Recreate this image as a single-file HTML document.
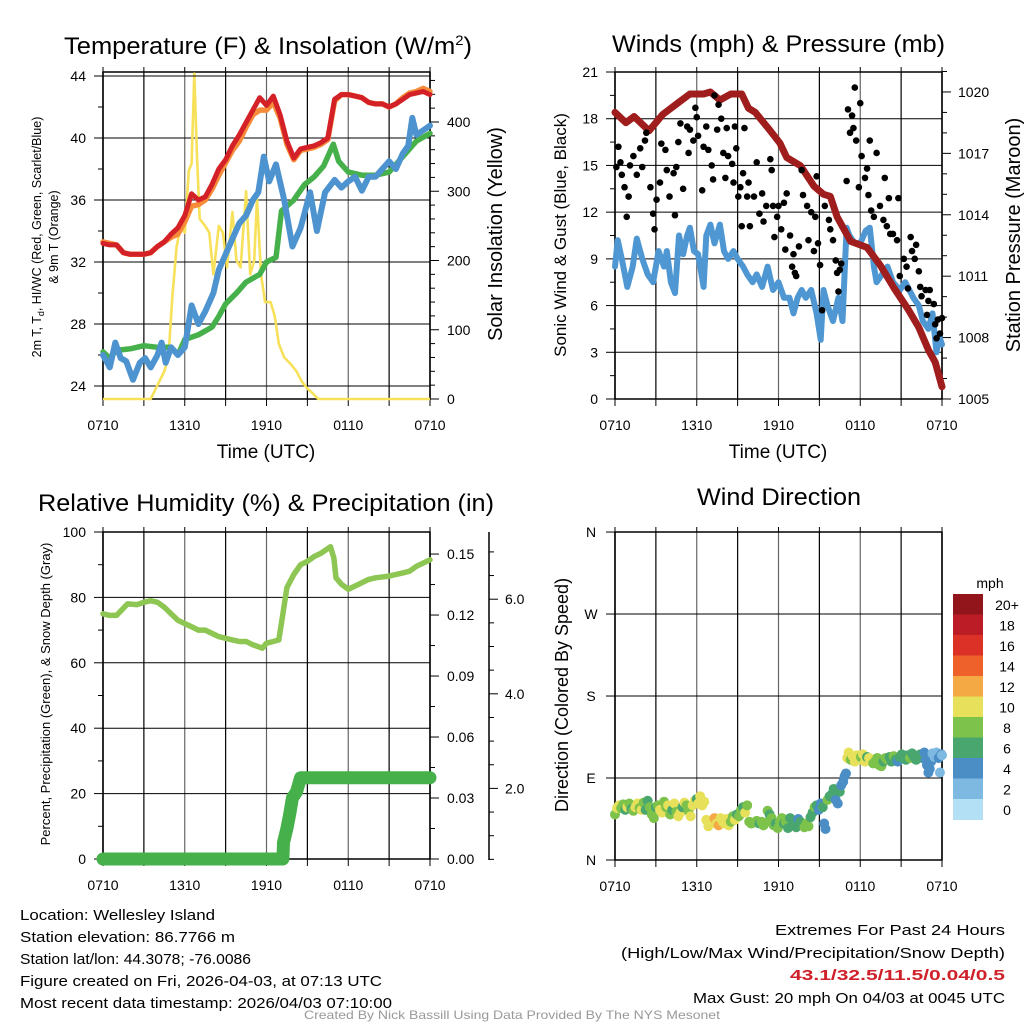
<!DOCTYPE html>
<html><head><meta charset="utf-8"><style>
html,body{margin:0;padding:0;background:#fff}
svg{display:block;font-family:"Liberation Sans",Arial,sans-serif}
</style></head><body>
<svg id="chart" xmlns="http://www.w3.org/2000/svg" width="1024" height="1024" viewBox="0 0 1024 1024">
<rect x="0" y="0" width="1024" height="1024" fill="#fff"/>
<g id="layer"></g>
<g font-size="24" fill="#000">
<text x="64" y="54" textLength="408" lengthAdjust="spacingAndGlyphs">Temperature (F) &amp; Insolation (W/m<tspan font-size="14" dy="-9">2</tspan><tspan dy="9">)</tspan></text>
<text x="612" y="52" textLength="333" lengthAdjust="spacingAndGlyphs">Winds (mph) &amp; Pressure (mb)</text>
<text x="38" y="511" textLength="456" lengthAdjust="spacingAndGlyphs">Relative Humidity (%) &amp; Precipitation (in)</text>
<text x="697" y="505" textLength="164" lengthAdjust="spacingAndGlyphs">Wind Direction</text>
</g>
<g fill="#000">
<text x="266" y="458" font-size="19" text-anchor="middle">Time (UTC)</text>
<text x="778" y="458" font-size="19" text-anchor="middle">Time (UTC)</text>
<text transform="translate(41,237) rotate(-90)" font-size="12.5" text-anchor="middle">2m T, T<tspan font-size="9" dy="3">d</tspan><tspan dy="-3">, HI/WC (Red, Green, Scarlet/Blue)</tspan></text>
<text transform="translate(58,237) rotate(-90)" font-size="12.5" text-anchor="middle">&amp; 9m T (Orange)</text>
<text transform="translate(502,234) rotate(-90)" font-size="20" text-anchor="middle">Solar Insolation (Yellow)</text>
<text transform="translate(566,235) rotate(-90)" font-size="17" text-anchor="middle">Sonic Wind &amp; Gust (Blue, Black)</text>
<text transform="translate(1020,235) rotate(-90)" font-size="20" text-anchor="middle">Station Pressure (Maroon)</text>
<text transform="translate(50,694) rotate(-90)" font-size="13" text-anchor="middle">Percent, Precipitation (Green), &amp; Snow Depth (Gray)</text>
<text transform="translate(568,695) rotate(-90)" font-size="18" text-anchor="middle">Direction (Colored By Speed)</text>
</g>
<g font-size="15" fill="#000">
<text x="20" y="920" textLength="195" lengthAdjust="spacingAndGlyphs">Location: Wellesley Island</text>
<text x="20" y="942" textLength="215" lengthAdjust="spacingAndGlyphs">Station elevation: 86.7766 m</text>
<text x="20" y="964" textLength="231" lengthAdjust="spacingAndGlyphs">Station lat/lon: 44.3078; -76.0086</text>
<text x="20" y="986" textLength="362" lengthAdjust="spacingAndGlyphs">Figure created on Fri, 2026-04-03, at 07:13 UTC</text>
<text x="20" y="1008" textLength="372" lengthAdjust="spacingAndGlyphs">Most recent data timestamp: 2026/04/03 07:10:00</text>
<text x="1005" y="935" text-anchor="end" textLength="230" lengthAdjust="spacingAndGlyphs">Extremes For Past 24 Hours</text>
<text x="1005" y="958" text-anchor="end" textLength="384" lengthAdjust="spacingAndGlyphs">(High/Low/Max Wind/Precipitation/Snow Depth)</text>
<text x="1005" y="980" text-anchor="end" textLength="215" lengthAdjust="spacingAndGlyphs" font-weight="bold" fill="#d0202a">43.1/32.5/11.5/0.04/0.5</text>
<text x="1005" y="1003" text-anchor="end" textLength="312" lengthAdjust="spacingAndGlyphs">Max Gust: 20 mph On 04/03 at 0045 UTC</text>
<text x="512" y="1019" text-anchor="middle" font-size="12" fill="#999" textLength="416" lengthAdjust="spacingAndGlyphs">Created By Nick Bassill Using Data Provided By The NYS Mesonet</text>
</g>
</svg>
<script>
// ---------- DATA ----------
const xTickLabels = ["0710","1310","1910","0110","0710"];
const halfHours = []; for (let i = 0; i <= 48; i++) halfHours.push(i * 0.5);
const redT = [33.2,33.1,33.1,32.6,32.5,32.5,32.5,32.6,33.0,33.3,33.8,34.2,35.0,36.4,36.0,36.2,37.0,38.0,38.6,39.5,40.2,41.0,41.8,42.6,42.1,42.7,41.5,39.8,38.7,39.3,39.4,39.5,39.7,40.0,42.5,42.8,42.8,42.7,42.6,42.3,42.2,42.2,42.0,42.2,42.5,42.8,42.9,43.0,42.8];
const orangeT = [33.3,33.2,33.1,32.6,32.5,32.5,32.5,32.6,33.0,33.3,33.6,33.8,34.6,35.6,35.7,36.0,36.7,37.6,38.4,39.2,39.8,40.7,41.5,41.8,41.8,42.3,41.3,39.6,38.6,39.2,39.3,39.4,39.6,39.9,42.4,42.8,42.8,42.7,42.6,42.3,42.2,42.2,42.0,42.2,42.6,42.9,43.0,43.2,43.0];
const blueH = [0,0.5,0.9,1.3,1.7,2.2,2.7,3.1,3.5,4.0,4.3,4.6,5.0,5.5,6.0,6.5,7.0,7.5,8.1,8.5,9.0,9.5,10.0,10.5,11.0,11.4,11.8,12.2,12.7,13.3,13.9,14.5,15.2,15.7,16.3,17.0,17.5,18.0,18.5,19.0,19.5,20.0,20.5,21.0,21.5,22.0,22.4,22.7,23.0,23.5,24];
const blueT = [26.0,25.2,26.8,25.8,25.6,24.4,25.5,25.8,25.2,26.0,26.8,25.5,26.5,26.0,26.5,29.2,28.0,28.8,30.0,31.5,32.5,33.5,34.5,35.0,36.0,36.5,38.8,37.2,38.3,36.0,33.0,34.2,36.5,34.0,36.5,37.3,36.8,37.2,37.5,36.6,37.5,37.5,38.0,38.5,38.0,39.0,39.5,41.3,40.2,40.5,40.8];
const greenH = [0,0.5,1,2,3,4,5,5.5,6,7,8,8.5,9,9.8,10.5,11.5,12,12.7,13.1,14,14.8,15.5,16.2,16.9,17.3,18,19,20,21,21.5,22.2,23,24];
const greenT = [26.2,25.8,26.3,26.4,26.6,26.5,26.5,26.0,27.0,27.3,27.8,28.5,29.3,30.0,30.7,31.2,32.0,32.3,35.3,36.0,37.0,37.5,38.2,39.6,38.5,37.8,37.6,37.6,37.8,38.3,39.0,39.8,40.3];
const solarH = [0,3.5,4.0,4.5,4.8,5.1,5.4,5.7,6.0,6.3,6.5,6.7,6.9,7.1,7.5,7.8,8.1,8.5,8.8,9.1,9.5,9.8,10.1,10.5,10.8,11.1,11.3,11.6,11.9,12.3,12.6,12.9,13.3,13.8,14.2,14.6,15.0,15.3,15.8,24];
const solarV = [0,0,20,40,60,150,220,250,240,330,340,470,350,260,250,240,180,250,240,190,270,200,190,300,180,200,290,180,140,140,120,80,60,50,40,25,15,10,0,0];
const windH = [0,0.2,0.5,0.9,1.3,1.6,2.0,2.4,2.8,3.2,3.6,3.8,4.1,4.4,4.7,5.0,5.3,5.5,5.8,6.1,6.5,6.7,7.0,7.3,7.7,8.0,8.3,8.7,9.0,9.4,9.7,10.1,10.4,10.8,11.2,11.6,12.0,12.4,12.8,13.1,13.4,13.7,14.0,14.4,14.8,15.1,15.3,15.6,16.0,16.4,16.7,17.0,17.2,17.6,18.0,18.4,18.7,19.0,19.2,19.6,20.0,20.4,20.9,21.3,21.9,22.3,22.6,23.0,23.3,23.6,23.8,24];
const windV = [8.5,10.2,9.0,7.2,8.5,10.3,9.0,8.0,7.5,9.5,8.5,9.5,7.5,6.8,10.5,9.3,10.5,11.0,9.5,9.3,7.2,10.5,11.2,10.0,11.2,9.5,9.0,9.5,9.0,8.5,8.0,7.5,8.0,7.2,8.5,7.0,7.5,6.5,6.5,5.5,6.5,7.0,6.5,7.0,5.5,3.8,7.0,6.0,5.0,6.5,5.0,11.0,10.5,10.0,10.0,10.8,11.0,8.5,7.5,8.0,8.5,7.5,7.0,7.5,6.5,6.0,5.0,4.5,5.5,3.0,4.0,3.5];
const presH = [0,0.8,1.4,2.5,3.5,4.5,5.5,6.5,7.0,7.7,8.5,9.3,9.8,10.3,11.4,12.1,12.6,13.6,14.6,15.3,15.8,16.3,17.3,18.5,19.5,20.5,21.5,22.3,23.0,23.5,24];
const presV = [1019.0,1018.5,1018.8,1018.1,1018.9,1019.4,1019.9,1019.9,1020.0,1019.6,1019.9,1019.9,1019.2,1019.0,1018.1,1017.5,1016.8,1016.4,1015.4,1015.0,1014.9,1013.9,1012.7,1012.4,1011.5,1010.4,1009.4,1008.5,1007.4,1006.8,1005.6];
const gustH = [0.1,0.25,0.4,0.5,0.7,0.86,1.0,1.1,1.35,1.6,1.85,2.0,2.2,2.3,2.6,2.8,2.9,3.05,3.3,3.4,3.7,3.8,4.0,4.3,4.4,4.5,4.65,4.8,5.0,5.3,5.4,5.5,5.75,5.9,6.0,6.1,6.4,6.5,6.7,6.85,7.1,7.2,7.3,7.5,7.6,7.8,7.95,8.1,8.2,8.3,8.6,8.7,8.8,8.9,9.05,9.2,9.3,9.4,9.5,9.7,9.8,9.9,10.2,10.4,10.6,10.8,10.9,11.1,11.4,11.5,11.6,11.7,11.9,12.0,12.2,12.4,12.5,12.6,12.85,13.0,13.1,13.2,13.3,13.5,13.7,13.8,14.1,14.2,14.4,14.6,14.7,14.8,14.9,15.05,15.2,15.4,15.7,15.8,16.0,16.2,16.3,16.4,16.5,16.6,17.0,17.1,17.25,17.4,17.5,17.6,17.7,17.9,18.0,18.1,18.35,18.5,18.6,18.7,18.8,19.0,19.2,19.45,19.7,19.8,19.95,20.1,20.2,20.4,20.7,20.8,20.9,21.2,21.4,21.5,21.7,21.8,22.0,22.1,22.3,22.4,22.5,22.8,22.9,23.0,23.1,23.4,23.5,23.6,23.7,23.85,24.0];
const gustV = [14.9,16.2,15.2,14.4,13.6,11.7,13.0,15.0,15.6,14.4,16.1,14.9,16.6,17.1,13.6,11.9,10.9,12.8,13.9,16.4,16.0,14.7,13.0,14.5,11.8,14.9,16.5,17.7,13.5,17.5,15.8,17.3,16.6,18.7,18.1,16.9,13.4,16.2,17.5,16.0,15.0,14.1,19.5,17.3,18.9,18.0,15.8,14.2,17.4,15.6,15.1,13.9,17.5,16.1,13.0,13.6,11.1,14.5,17.4,13.0,13.9,11.1,13.0,15.2,11.9,13.2,11.4,12.4,15.4,14.7,12.4,10.4,11.7,12.4,10.9,12.6,9.6,13.2,10.5,8.5,9.3,8.1,7.9,9.8,14.7,13.1,12.4,10.2,12.0,9.5,11.7,14.3,10.0,8.6,5.7,12.4,11.5,10.9,10.2,8.9,8.1,6.9,8.3,8.7,14.0,18.6,17.1,18.2,17.4,20.0,16.6,13.6,19.0,15.6,14.2,14.8,13.1,16.6,12.1,11.7,15.8,12.4,11.5,14.2,11.1,12.9,10.6,10.6,10.2,12.9,7.9,9.0,8.5,7.1,10.4,9.5,9.0,9.9,8.2,7.2,6.6,7.0,5.4,6.3,7.0,6.1,4.8,3.9,5.1,4.2,5.2];
const rhH = [0,0.5,1,1.8,2.5,3,3.5,4,4.5,5,5.5,6,6.5,7,7.5,8,8.5,9,9.5,10,10.5,11,11.7,12,12.5,12.9,13.2,13.5,14,14.5,15,15.5,16,16.7,16.95,17.1,17.5,18,18.5,19,19.5,20,21,21.5,22,22.5,23,24];
const rhV = [75,74.5,74.5,78,77.8,78.5,79,78.5,77,75,73,72,71,70,70,69,68,67.5,67,66.5,66.5,65.5,64.5,66,66.5,67,75,83,87,90,91,92.5,93.5,95.5,92,86,84,82.5,83.5,84.5,85.5,86,86.5,87,87.5,88,89.5,91.5];
const precipH = [0,13.2,13.25,13.5,13.7,13.9,14.2,14.5,24];
const precipV = [0,0,0.008,0.015,0.022,0.030,0.033,0.040,0.040];
const dirH = [0.0,0.15,0.3,0.45,0.6,0.75,0.9,1.05,1.2,1.35,1.5,1.65,1.8,1.95,2.1,2.25,2.4,2.55,2.7,2.85,3.0,3.15,3.3,3.45,3.6,3.75,3.9,4.05,4.2,4.35,4.5,4.65,4.8,4.95,5.1,5.25,5.4,5.55,5.7,5.85,6.0,6.1,6.25,6.4,6.55,6.7,6.85,7.0,7.15,7.3,7.45,7.6,7.75,7.9,8.05,8.2,8.35,8.5,8.65,8.8,8.95,9.1,9.25,9.4,9.55,9.7,9.85,10.0,10.2,10.4,10.6,10.75,10.9,11.05,11.2,11.35,11.5,11.65,11.8,11.95,12.1,12.25,12.4,12.55,12.7,12.85,13.0,13.15,13.3,13.45,13.6,13.75,13.9,14.05,14.2,14.35,14.5,14.65,14.8,14.95,15.1,15.25,15.35,15.45,15.6,15.75,15.9,16.05,16.2,16.35,16.5,16.6,16.75,16.85,16.95,17.05,17.15,17.3,17.45,17.6,17.75,17.9,18.05,18.2,18.35,18.5,18.65,18.8,18.95,19.1,19.25,19.4,19.55,19.7,19.85,20.0,20.15,20.3,20.45,20.6,20.75,20.9,21.05,21.2,21.35,21.5,21.65,21.8,21.95,22.1,22.25,22.4,22.55,22.7,22.8,22.9,23.0,23.1,23.2,23.3,23.45,23.6,23.75,23.85,23.95,24.0];
const dirD = [50,57,60,57,61,55,58,62,56,54,58,62,57,55,63,55,65,58,50,46,58,60,55,52,64,58,60,50,55,62,53,48,52,58,63,60,54,48,60,65,67,62,70,60,64,44,37,42,44,46,40,38,46,42,40,45,38,42,48,44,50,48,55,58,52,60,42,40,41,43,40,42,38,41,54,50,46,38,40,35,42,46,40,42,35,46,44,40,36,45,42,38,36,40,37,47,52,58,60,55,62,58,40,34,66,70,72,78,66,62,75,82,86,92,95,112,118,110,114,108,115,110,113,116,108,113,112,110,106,108,112,104,103,108,112,110,113,108,114,110,108,113,116,112,110,115,112,117,113,110,114,116,112,118,110,104,96,100,108,117,113,118,112,96,116,115];
const dirS = [8,10,10,8,8,6,10,8,6,8,10,10,8,10,8,6,6,8,8,8,6,8,10,10,8,8,10,8,6,10,8,10,10,6,10,8,8,10,10,10,6,10,10,10,10,10,10,10,10,12,10,12,10,10,10,10,10,8,8,10,6,8,8,6,10,8,8,8,8,8,6,8,8,8,8,6,8,8,6,8,8,8,6,8,6,6,6,6,6,4,6,6,8,8,8,6,6,8,6,4,4,6,4,4,8,6,6,6,4,4,6,4,4,4,4,10,10,8,10,10,10,10,8,10,10,6,10,10,8,8,8,8,8,6,8,8,6,6,8,6,4,6,6,6,6,6,8,6,6,6,6,6,6,4,4,4,4,4,4,2,2,2,4,2,4,2];
const cbarLabels = ["20+","18","16","14","12","10","8","6","4","2","0"];
const cbarColors = ["#92151b","#bc1c25","#db3127","#ee612b","#f5a945","#e6e05a","#7dc24a","#4aa66f","#4a8ec5","#7eb9e2","#b3e0f5"];

// ---------- DRAWING ----------
const NS = "http://www.w3.org/2000/svg";
const layer = document.getElementById("layer");
function add(parent, tag, attrs) {
  const e = document.createElementNS(NS, tag);
  for (const k in attrs) e.setAttribute(k, attrs[k]);
  parent.appendChild(e);
  return e;
}
const X0L = 103, X0R = 615, PW = 327;
function xs(x0, h) { return x0 + h * PW / 24; }

function frame(x0, y0, y1, name, gridYs) {
  const g = add(layer, "g", {});
  
  
  for (let i = 0; i <= 8; i++) {
    const x = xs(x0, i * 3);
    const l = add(g, "line", {x1: x, x2: x, y1: y0, y2: y1, stroke: (i % 2 ? "#000" : "#666"), "stroke-width": (i===0||i===8)?1.5:1.2});
    
    
    const t = add(g, "line", {x1: x, x2: x, y1: y1, y2: y1 + 7, stroke: "#000", "stroke-width": 1});
    
    
    const t2 = add(g, "line", {x1: x, x2: x, y1: y0 - 5, y2: y0, stroke: "#000", "stroke-width": 1});
    
    
  }
  for (let i = 0; i < xTickLabels.length; i++) {
    const tx = add(g, "text", {x: xs(x0, i * 6), y: y1 + 31, "font-size": 14, "text-anchor": "middle"});
    tx.textContent = xTickLabels[i];
    
    
  }
  gridYs.forEach(y => {
    const l = add(g, "line", {x1: x0, x2: x0 + PW, y1: y, y2: y, stroke: "#000", "stroke-width": 1});
    
    
  });
  const b = add(g, "rect", {x: x0, y: y0, width: PW, height: y1 - y0, fill: "none", stroke: "#000", "stroke-width": 1.5});
  
  
  return g;
}
function yAxis(g, name, xAxis, side, vals, labelFn, yFn, minorVals, labelX, anchor) {
  const dir = side === "left" ? -1 : 1;
  vals.forEach(v => {
    const y = yFn(v);
    const t = add(g, "line", {x1: xAxis, x2: xAxis + dir * 9, y1: y, y2: y, stroke: "#000", "stroke-width": 1});
    
    
    const tx = add(g, "text", {x: labelX, y: y + 5, "font-size": 14, "text-anchor": anchor});
    tx.textContent = labelFn(v);
    
    
  });
  minorVals.forEach(v => {
    const y = yFn(v);
    const t = add(g, "line", {x1: xAxis, x2: xAxis + dir * 5, y1: y, y2: y, stroke: "#000", "stroke-width": 1});
    
    
  });
}
function range(a, b, s) { const r = []; for (let v = a; v <= b + 1e-9; v += s) r.push(+v.toFixed(4)); return r; }
function pts(x0, H, V, yFn) { const n = Math.min(H.length, V.length); let s = []; for (let i = 0; i < n; i++) s.push(xs(x0, H[i]).toFixed(1) + "," + yFn(V[i]).toFixed(1)); return s.join(" "); }

// ===== Panel 1: Temperature =====
const yT = v => 386 - (v - 24) * 15.5;
const yS = v => 399 - v * 0.6925;
const g1 = frame(X0L, 72, 399, "temp", range(24, 44, 4).map(yT));
yAxis(g1, "temp-y", X0L, "left", range(24, 44, 4), v => String(v), yT, range(26, 42, 4), 86, "end");
yAxis(g1, "solar-y", X0L + PW, "right", range(0, 400, 100), v => String(v), yS, range(20, 460, 20).filter(v => v % 100), 447, "start");
let p;
p = add(g1, "polyline", {points: pts(X0L, solarH, solarV, yS), fill: "none", stroke: "#f7e15a", "stroke-width": 2.6, "stroke-linejoin": "round"});


p = add(g1, "polyline", {points: pts(X0L, greenH, greenT, yT), fill: "none", stroke: "#46b04a", "stroke-width": 5.5, "stroke-linejoin": "round", "stroke-linecap": "round"});


p = add(g1, "polyline", {points: pts(X0L, blueH, blueT, yT), fill: "none", stroke: "#4d93cf", "stroke-width": 6, "stroke-linejoin": "round", "stroke-linecap": "round"});


p = add(g1, "polyline", {points: pts(X0L, halfHours, orangeT, yT), fill: "none", stroke: "#f68c3a", "stroke-width": 5.5, "stroke-linejoin": "round", "stroke-linecap": "round"});


p = add(g1, "polyline", {points: pts(X0L, halfHours, redT, yT), fill: "none", stroke: "#d42027", "stroke-width": 5, "stroke-linejoin": "round", "stroke-linecap": "round"});


p = add(g1, "line", {x1: X0L, x2: X0L + PW, y1: 76, y2: 76, stroke: "#000", "stroke-width": 1});



// ===== Panel 2: Winds =====
const yW = v => 399 - v * 15.571;
const yP = v => 399 - (v - 1005) * 20.47;
const g2 = frame(X0R, 72, 399, "wind", range(0, 21, 3).map(yW));
yAxis(g2, "wind-y", X0R, "left", range(0, 21, 3), v => String(v), yW, range(1.5, 19.5, 3), 598, "end");
yAxis(g2, "pressure-y", X0R + PW, "right", range(1005, 1020, 3), v => String(v), yP, range(1006, 1021, 1).filter(v => (v - 1005) % 3), 958, "start");
p = add(g2, "polyline", {points: pts(X0R, windH, windV, yW), fill: "none", stroke: "#4f97d2", "stroke-width": 6, "stroke-linejoin": "round", "stroke-linecap": "round"});


p = add(g2, "polyline", {points: pts(X0R, presH, presV, yP), fill: "none", stroke: "#a01d1d", "stroke-width": 7, "stroke-linejoin": "round", "stroke-linecap": "round"});


for (let i = 0; i < Math.min(gustH.length, gustV.length); i++) {
  const c = add(g2, "circle", {cx: xs(X0R, gustH[i]), cy: yW(gustV[i]), r: 3.3, fill: "#000"});
  
  
}

// ===== Panel 3: RH & precip =====
const yR = v => 859 - v * 3.27;
const yPr = v => 859 - v * 2033;
const ySn = v => 883 - v * 47.3;
const g3 = frame(X0L, 532, 859, "rh", range(0, 100, 20).map(yR));
yAxis(g3, "rh-y", X0L, "left", range(0, 100, 20), v => String(v), yR, range(10, 90, 20), 86, "end");
yAxis(g3, "precip-y", X0L + PW, "right", range(0, 0.15, 0.03), v => v.toFixed(2), yPr, range(0.015, 0.155, 0.03), 447, "start");
p = add(g3, "line", {x1: 489, x2: 489, y1: 532, y2: 860, stroke: "#000", "stroke-width": 1.5});


yAxis(g3, "snow-y", 489, "right", [2, 4, 6], v => v.toFixed(1), ySn, [0.5, 1, 1.5, 2.5, 3, 3.5, 4.5, 5, 5.5, 6.5, 7], 505, "start");
p = add(g3, "polyline", {points: pts(X0L, rhH, rhV, yR), fill: "none", stroke: "#8dc653", "stroke-width": 5.5, "stroke-linejoin": "round", "stroke-linecap": "round"});


p = add(g3, "circle", {cx: X0L, cy: 859, r: 6, fill: "#aaa"});


p = add(g3, "polyline", {points: pts(X0L, precipH, precipV, yPr), fill: "none", stroke: "#46b04a", "stroke-width": 13, "stroke-linejoin": "round", "stroke-linecap": "round"});



// ===== Panel 4: Wind direction =====
const yD = d => 860 - d * 0.911;
const g4 = frame(X0R, 532, 860, "dir", [0, 90, 180, 270, 360].map(yD));
const dirLabels = ["N", "E", "S", "W", "N"];
[0, 90, 180, 270, 360].forEach((d, i) => {
  const t = add(g4, "line", {x1: X0R - 9, x2: X0R, y1: yD(d), y2: yD(d), stroke: "#000", "stroke-width": 1});
  
  
  const tx = add(g4, "text", {x: 591, y: yD(d) + 5, "font-size": 14, "text-anchor": "middle"});
  tx.textContent = dirLabels[i];
  
  
});
function spdColor(s) { let idx = Math.min(10, Math.floor(s / 2)); return cbarColors[10 - idx]; }
for (let i = 0; i < Math.min(dirH.length, dirD.length, dirS.length); i++) {
  const c = add(g4, "circle", {cx: xs(X0R, dirH[i]), cy: yD(dirD[i]), r: 5, fill: spdColor(dirS[i])});
  
  
}
// colorbar
const cb = add(layer, "g", {});


const mph = add(cb, "text", {x: 990, y: 588, "font-size": 14, "text-anchor": "middle"});
mph.textContent = "mph";


for (let i = 0; i < cbarColors.length; i++) {
  const y = 594 + i * 20.5;
  const r = add(cb, "rect", {x: 953, y: y, width: 30, height: 21, fill: cbarColors[i]});
  
  
  const t = add(cb, "text", {x: 1007, y: y + 16, "font-size": 14, "text-anchor": "middle"});
  t.textContent = cbarLabels[i];
  
  
}
</script>
</body></html>
